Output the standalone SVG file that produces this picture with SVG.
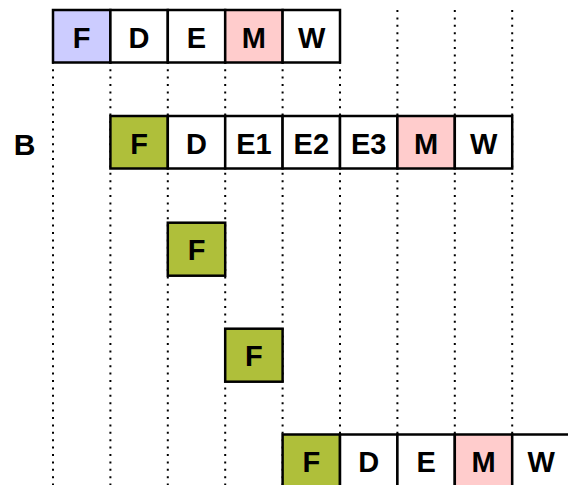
<svg xmlns="http://www.w3.org/2000/svg" width="568" height="485" viewBox="0 0 568 485">
<style>
.grid line{stroke:#000;stroke-width:2;stroke-dasharray:2 5.4;fill:none}
.cell rect{stroke:#000;stroke-width:2.5;fill:#fff}
.cell.f1 rect{fill:#CCCCFF}
.cell.fg rect{fill:#AFBF3A}
.cell.m rect{fill:#FFCCCC}
text{font-family:"Liberation Sans",Arial,Helvetica,sans-serif;font-weight:bold;font-size:29px;fill:#000;text-anchor:middle}
#label-B{font-size:30px}
</style>
<rect width="568" height="485" fill="#fff"/>
<g id="connectors" class="grid">
<line x1="53" y1="10" x2="53" y2="485"/>
<line x1="110.4" y1="10" x2="110.4" y2="485"/>
<line x1="167.8" y1="10" x2="167.8" y2="485"/>
<line x1="225.2" y1="10" x2="225.2" y2="485"/>
<line x1="282.6" y1="10" x2="282.6" y2="485"/>
<line x1="340" y1="10" x2="340" y2="485"/>
<line x1="397.4" y1="10" x2="397.4" y2="485"/>
<line x1="454.8" y1="10" x2="454.8" y2="485"/>
<line x1="512.2" y1="10" x2="512.2" y2="485"/>
</g>
<text id="label-B" x="24.5" y="154.5">B</text>
<g id="r1-F" class="cell f1"><rect x="53" y="10" width="57.4" height="52.5"/><text x="81.7" y="47.6">F</text></g>
<g id="r1-D" class="cell"><rect x="110.4" y="10" width="57.4" height="52.5"/><text x="139.1" y="47.6">D</text></g>
<g id="r1-E" class="cell"><rect x="167.8" y="10" width="57.4" height="52.5"/><text x="196.5" y="47.6">E</text></g>
<g id="r1-M" class="cell m"><rect x="225.2" y="10" width="57.4" height="52.5"/><text x="253.9" y="47.6">M</text></g>
<g id="r1-W" class="cell"><rect x="282.6" y="10" width="57.4" height="52.5"/><text x="311.6" y="47.6">W</text></g>
<g id="r2-F" class="cell fg"><rect x="110.4" y="116" width="57.4" height="52.5"/><text x="139.1" y="153.6">F</text></g>
<g id="r2-D" class="cell"><rect x="167.8" y="116" width="57.4" height="52.5"/><text x="196.5" y="153.6">D</text></g>
<g id="r2-E1" class="cell"><rect x="225.2" y="116" width="57.4" height="52.5"/><text x="253.9" y="153.6">E1</text></g>
<g id="r2-E2" class="cell"><rect x="282.6" y="116" width="57.4" height="52.5"/><text x="311.3" y="153.6">E2</text></g>
<g id="r2-E3" class="cell"><rect x="340" y="116" width="57.4" height="52.5"/><text x="368.7" y="153.6">E3</text></g>
<g id="r2-M" class="cell m"><rect x="397.4" y="116" width="57.4" height="52.5"/><text x="426.1" y="153.6">M</text></g>
<g id="r2-W" class="cell"><rect x="454.8" y="116" width="57.4" height="52.5"/><text x="483.8" y="153.6">W</text></g>
<g id="r3-F" class="cell fg"><rect x="167.8" y="222.7" width="57.4" height="53"/><text x="196.5" y="260.3">F</text></g>
<g id="r4-F" class="cell fg"><rect x="225.2" y="328.7" width="57.4" height="53"/><text x="253.9" y="366.3">F</text></g>
<g id="r5-F" class="cell fg"><rect x="282.6" y="434.5" width="57.4" height="53"/><text x="311.3" y="472.1">F</text></g>
<g id="r5-D" class="cell"><rect x="340" y="434.5" width="57.4" height="53"/><text x="368.7" y="472.1">D</text></g>
<g id="r5-E" class="cell"><rect x="397.4" y="434.5" width="57.4" height="53"/><text x="426.1" y="472.1">E</text></g>
<g id="r5-M" class="cell m"><rect x="454.8" y="434.5" width="57.4" height="53"/><text x="483.5" y="472.1">M</text></g>
<g id="r5-W" class="cell"><rect x="512.2" y="434.5" width="57.4" height="53"/><text x="541.2" y="472.1">W</text></g>
</svg>
